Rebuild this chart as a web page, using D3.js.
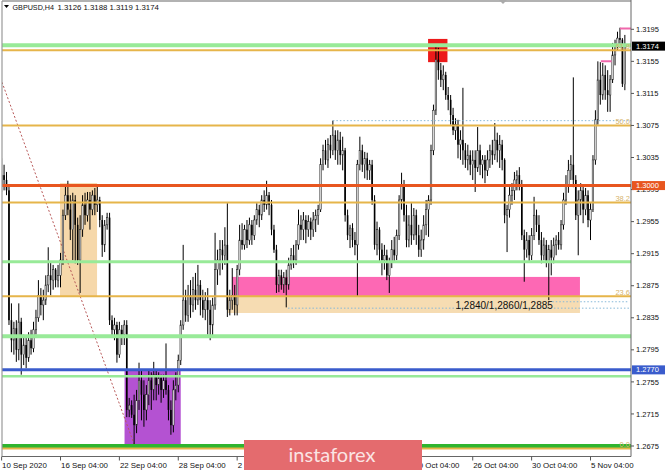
<!DOCTYPE html>
<html><head><meta charset="utf-8">
<script src="https://cdn.jsdelivr.net/npm/d3@7"></script>
<style>body{margin:0;background:#fff;overflow:hidden}svg{display:block}</style>
</head><body><svg id="c" width="665" height="471"></svg>
<script>
// ---- data (prices in 1/10000 units) ----
const symbolTitle = "GBPUSD,H4";
const lastBar = "1.3126 1.3188 1.3119 1.3174";
const opens = [
13001,13013,13007,12994,12832,12807,12822,12795,12830,12789,
12801,12785,12807,12797,12820,12835,12863,12851,12857,12876,
12888,12882,12895,12882,12888,12907,12963,12988,12970,12945,
12982,12951,12907,12945,12976,12963,12982,12970,12988,12976,
12982,12957,12926,12951,12960,12832,12820,12826,12789,12820,
12814,12826,12720,12726,12714,12701,12732,12757,12739,12720,
12739,12757,12745,12764,12751,12760,12745,12757,12745,12720,
12701,12745,12751,12782,12826,12857,12838,12863,12851,12870,
12857,12876,12857,12845,12857,12845,12826,12851,12895,12907,
12920,12913,12926,12845,12857,12863,12851,12895,12932,12926,
12945,12932,12951,12938,12957,12970,12963,12982,12976,12988,
12976,12945,12920,12876,12888,12876,12885,12876,12901,12913,
12907,12926,12951,12945,12957,12945,12955,12945,12957,12963,
12970,13026,13044,13032,13051,13044,13063,13044,13057,13038,
13044,12963,12938,12947,12932,12926,13026,13044,13026,13034,
13019,13026,12982,12926,12945,12920,12907,12913,12888,12905,
12920,12913,12938,12982,13001,12963,12932,12951,12938,12963,
12938,12920,12932,12951,12970,12982,13044,13094,13157,13144,
13132,13138,13113,13107,13088,13069,13076,13051,13057,13044,
13032,13038,13026,13032,13022,13044,13026,13032,13019,13032,
13044,13038,13057,13044,13051,13032,12963,12970,12988,12994,
13007,13013,13001,12938,12920,12932,12913,12938,12963,12951,
12932,12913,12926,12905,12920,12910,12926,12932,12926,12951,
12982,13001,13019,13026,13007,12963,12982,12994,12970,12988,
12957,12970,13032,13082,13132,13113,13138,13119,13113,13132,
13163,13175,13184,13182,13126];
const highs = [
13034,13026,13017,13001,12853,12830,12832,12853,12835,12814,
12810,12817,12820,12830,12845,12882,12872,12870,12888,12923,
12905,12901,12897,12901,12916,12970,13001,13006,12988,12991,
12988,12960,12963,12988,12991,12992,12992,12994,12997,13001,
12986,12963,12957,12966,12966,12838,12835,12830,12830,12826,
12832,12832,12735,12732,12739,12745,12779,12770,12757,12751,
12770,12767,12780,12770,12767,12764,12764,12803,12751,12732,
12757,12767,12789,12832,12926,12870,12876,12882,12886,12891,
12901,12882,12870,12867,12872,12857,12860,12941,12920,12932,
12932,12948,12978,12870,12897,12876,12901,12951,12953,12951,
12957,12960,12957,12963,12978,12976,12988,12994,13006,12992,
12982,12951,12926,12895,12895,12892,12895,12910,12922,12926,
12932,12970,12963,12967,12963,12963,12960,12967,12970,12976,
13034,13051,13057,13059,13063,13081,13069,13069,13067,13061,
13047,12970,12951,12953,12942,13032,13061,13051,13042,13041,
13032,13032,12988,12955,12948,12928,12926,12920,12910,12932,
12936,12945,12988,13016,13007,12976,12963,12978,12972,12970,
12951,12945,12963,12982,12988,13051,13101,13175,13172,13153,
13150,13142,13123,13113,13097,13084,13082,13069,13122,13053,
13051,13044,13044,13044,13073,13051,13038,13038,13044,13051,
13057,13078,13066,13063,13057,13034,12976,12998,13003,13017,
13019,13023,13007,12945,12942,12938,12947,12986,12970,12963,
12942,12935,12932,12926,12932,12935,12938,12942,12957,12991,
13013,13032,13038,13135,13013,12994,13003,13001,12997,12994,
12978,13038,13094,13155,13154,13153,13150,13144,13138,13178,
13182,13192,13197,13184,13188];
const lows = [
12992,12994,12988,12826,12792,12789,12780,12782,12764,12776,
12772,12780,12789,12792,12814,12830,12838,12832,12851,12867,
12863,12870,12873,12873,12873,12901,12957,12963,12932,12907,
12903,12901,12866,12936,12951,12955,12945,12963,12963,12967,
12948,12911,12917,12945,12826,12811,12807,12779,12785,12801,
12801,12711,12711,12710,12674,12691,12720,12707,12699,12707,
12726,12720,12732,12732,12739,12729,12735,12739,12707,12689,
12692,12732,12742,12776,12820,12830,12830,12835,12842,12845,
12851,12838,12835,12832,12814,12807,12810,12845,12876,12888,
12895,12901,12836,12838,12845,12838,12838,12888,12920,12920,
12922,12926,12926,12932,12951,12948,12957,12967,12970,12963,
12938,12916,12866,12867,12870,12866,12848,12870,12895,12897,
12901,12920,12932,12932,12928,12936,12932,12936,12942,12951,
12967,13019,13026,13022,13034,13038,13032,13026,13026,13019,
12955,12932,12922,12923,12913,12861,13019,13017,13009,13007,
13007,12976,12920,12913,12905,12888,12895,12882,12866,12897,
12905,12907,12932,12970,12955,12923,12923,12926,12932,12926,
12911,12911,12920,12938,12936,12976,13038,13088,13132,13123,
13119,13107,13094,13076,13063,13057,13034,13032,13026,13022,
13019,13013,13007,12992,13017,13013,13009,13003,13012,13022,
13026,13032,13029,13022,13019,12953,12917,12960,12976,12982,
12994,12994,12932,12880,12910,12905,12907,12932,12942,12926,
12903,12907,12898,12857,12888,12903,12913,12920,12920,12945,
12976,12991,13007,12998,12957,12913,12963,12953,12963,12948,
12932,12967,13026,13076,13101,13107,13107,13092,13092,13128,
13150,13169,13172,13123,13119];
const closes = [
13013,13007,12994,12832,12807,12822,12795,12830,12789,12801,
12785,12807,12797,12820,12835,12863,12851,12857,12876,12888,
12882,12895,12882,12888,12907,12963,12988,12970,12945,12982,
12951,12907,12945,12976,12963,12982,12970,12988,12976,12982,
12957,12926,12951,12960,12832,12820,12826,12789,12820,12814,
12826,12720,12726,12714,12701,12732,12757,12739,12720,12739,
12757,12745,12764,12751,12760,12745,12757,12745,12720,12701,
12745,12751,12782,12826,12857,12838,12863,12851,12870,12857,
12876,12857,12845,12857,12845,12826,12851,12895,12907,12920,
12913,12926,12845,12857,12863,12851,12895,12932,12926,12945,
12932,12951,12938,12957,12970,12963,12982,12976,12988,12976,
12945,12920,12876,12888,12876,12885,12876,12901,12913,12907,
12926,12951,12945,12957,12945,12955,12945,12957,12963,12970,
13026,13044,13032,13051,13044,13063,13044,13057,13038,13044,
12963,12938,12947,12932,12926,13026,13044,13026,13034,13019,
13026,12982,12926,12945,12920,12907,12913,12888,12905,12920,
12913,12938,12982,13001,12963,12932,12951,12938,12963,12938,
12920,12932,12951,12970,12982,13044,13094,13157,13144,13132,
13138,13113,13107,13088,13069,13076,13051,13057,13044,13032,
13038,13026,13032,13022,13044,13026,13032,13019,13032,13044,
13038,13057,13044,13051,13032,12963,12970,12988,12994,13007,
13013,13001,12938,12920,12932,12913,12938,12963,12951,12932,
12913,12926,12905,12920,12910,12926,12932,12926,12951,12982,
13001,13019,13026,13007,12963,12982,12994,12970,12988,12957,
12970,13032,13082,13132,13113,13138,13119,13113,13132,13163,
13175,13184,13182,13127,13174];

const yTicks = [1.3195,1.3155,1.3115,1.3075,1.3035,1.2995,1.2955,1.2915,1.2875,1.2835,1.2795,1.2755,1.2715,1.2675];
const xTickIndex = [0,24,48,72,96,120,144,168,192,216,240];
const xTickLabels = ["10 Sep 2020","16 Sep 04:00","22 Sep 04:00","28 Sep 04:00","2 Oct 04:00","8 Oct 04:00","14 Oct 04:00","20 Oct 04:00","26 Oct 04:00","30 Oct 04:00","5 Nov 04:00"];

const fibNames  = ["0.0","23.6","38.2","50.0","61.8"];
const fibValues = [1.2672,1.2862,1.2979,1.3075,1.3169];
const greenLines = [1.3175,1.2905,1.2812,1.2762];
const greenWidths = [4,3,4,2.5];
const level1300 = 1.3000;
const level1277 = 1.2770;
const level1267 = 1.2675;
const lastPrice = 1.3174;
// zones: [startIndex, endIndex, lowPrice, highPrice]
const zoneTan1   = [23.8, 38.9, 1.2862, 1.3003];
const zonePurple = [50.1, 73.0, 1.2675, 1.2770];
const zoneTan2   = [92.3, 235.7, 1.2841, 1.2862];
const zonePink   = [93.9, 235.7, 1.2862, 1.2886];
const zoneRed    = [173.8, 181.7, 1.3154, 1.3183];
const zoneText = "1,2840/1,2860/1,2885";
// dotted lines: [startIndex, endIndex, price]
const dottedLevels = [[135, 256.5, 1.3081],[223, 255.8, 1.2855],[116.7, 255.8, 1.2847]];
// pink highs: [startIndex, endIndex, price]
const pinkHighs = [[244.2, 248.6, 1.3155],[252, 256.5, 1.3196]];
// diagonal trend line: [index, price] pairs
const trendLine = [[0.16, 1.3129],[54.4, 1.2674]];

// ---- layout ----
const L = 2, R = 631, T = 1, B = 456.5;
const svg = d3.select("#c");
const x = d3.scaleLinear().domain([24, 240]).range([60.5, 590.5]);
const y = d3.scaleLinear().domain([1.2675, 1.3195]).range([446, 29.3]);
const FONT = "'Liberation Sans', Arial, sans-serif";
const WM = {x: 244, y: 440, w: 178, h: 30};

svg.append("defs").append("clipPath").attr("id","plot")
  .append("rect").attr("x",L).attr("y",T).attr("width",R-L).attr("height",B-T);
const g = svg.append("g").attr("clip-path","url(#plot)");

function zone(z, fill){
  g.append("rect").attr("x", x(z[0])).attr("width", x(z[1]) - x(z[0]))
   .attr("y", y(z[3])).attr("height", y(z[2]) - y(z[3])).attr("fill", fill);
}
zone(zoneTan1, "#f6d8aa");
zone(zonePurple, "#b452d2");
zone(zoneTan2, "#f6dcb2");
zone(zonePink, "#fd68b4");
zone(zoneRed, "#ec1a1a");

// diagonal dotted
g.append("line").attr("x1", x(trendLine[0][0])).attr("y1", y(trendLine[0][1]))
 .attr("x2", x(trendLine[1][0])).attr("y2", y(trendLine[1][1]))
 .attr("stroke","#b85a5a").attr("stroke-width",1).attr("stroke-dasharray","2,2");

// candles
const bars = d3.range(closes.length).map(i => ({i, o:opens[i]/1e4, h:highs[i]/1e4, l:lows[i]/1e4, c:closes[i]/1e4}));
const cg = g.append("g");
cg.selectAll("line.w").data(bars).join("line").attr("class","w")
  .attr("x1", d => x(d.i)).attr("x2", d => x(d.i))
  .attr("y1", d => y(Math.max(d.h,d.o,d.c))).attr("y2", d => y(Math.min(d.l,d.o,d.c)))
  .attr("stroke","#000").attr("stroke-width",1);
cg.selectAll("rect.b").data(bars).join("rect").attr("class","b")
  .attr("x", d => x(d.i) - 0.8).attr("width", 1.6)
  .attr("y", d => y(Math.max(d.o,d.c)))
  .attr("height", d => Math.max(0.8, Math.abs(y(d.o) - y(d.c))))
  .attr("fill", d => d.c >= d.o ? "#d8d8d8" : "#000")
  .attr("stroke", d => d.c >= d.o ? "#222" : "none").attr("stroke-width", 0.5);

// horizontal lines
function hline(v, color, w, x1 = L, x2 = R, dash = null){
  const ln = g.append("line").attr("x1",x1).attr("x2",x2).attr("y1",y(v)).attr("y2",y(v))
    .attr("stroke",color).attr("stroke-width",w);
  if (dash) ln.attr("stroke-dasharray", dash);
}
greenLines.forEach((v,k) => hline(v, "#98ea98", greenWidths[k]));
hline(level1267, "#2fb52f", 4);
fibValues.forEach(v => hline(v, "#e6b54a", 2));
hline(level1300, "#e8561f", 3);
hline(level1277, "#3a5ccc", 3);
dottedLevels.forEach(d => hline(d[2], "#86b8d8", 1, x(d[0]), x(d[1]), "1.5,2"));
pinkHighs.forEach(d => hline(d[2], "#f068ac", 2, x(d[0]), x(d[1])));

// fib labels
fibValues.forEach((v,k) => {
  svg.append("text").attr("x", 630).attr("y", y(v) - 1.5).attr("text-anchor","end")
    .attr("font-family",FONT).attr("font-size",7.5).attr("fill","#d6b36c").text(fibNames[k]);
});
// zone text
svg.append("text").attr("x", 455.5).attr("y", 309).attr("font-family",FONT).attr("font-size",10)
  .attr("fill","#111").text(zoneText);

// frame
svg.append("line").attr("x1",L).attr("x2",R).attr("y1",T).attr("y2",T).attr("stroke","#999").attr("stroke-width",1.5);
svg.append("line").attr("x1",L).attr("x2",L).attr("y1",T).attr("y2",B).attr("stroke","#999").attr("stroke-width",1.2);
svg.append("line").attr("x1",R).attr("x2",R).attr("y1",0).attr("y2",B).attr("stroke","#666").attr("stroke-width",1);
svg.append("line").attr("x1",L).attr("x2",R).attr("y1",B).attr("y2",B).attr("stroke","#666").attr("stroke-width",1);
// shift marker
svg.append("path").attr("d", `M${499},0 L${507},0 L${503},4 Z`).attr("fill","#aaa");

// y axis
const ya = svg.append("g");
yTicks.forEach(v => {
  ya.append("line").attr("x1",R).attr("x2",R+3).attr("y1",y(v)).attr("y2",y(v)).attr("stroke","#555");
  ya.append("text").attr("x",636).attr("y",y(v)).attr("dy","0.35em").attr("font-family",FONT)
    .attr("font-size",7.5).attr("fill","#111").text(v.toFixed(4));
});
function priceBox(v, bg){
  ya.append("rect").attr("x",R+1).attr("y",y(v)-4.5).attr("width",34).attr("height",9).attr("fill",bg);
  ya.append("text").attr("x",636).attr("y",y(v)).attr("dy","0.35em").attr("font-family",FONT)
    .attr("font-size",7.5).attr("fill","#fff").text(v.toFixed(4));
}
priceBox(lastPrice, "#000");
priceBox(level1300, "#e8561f");
priceBox(level1277, "#3a5ccc");

// x axis (labels that would sit entirely under the watermark are not visible in the reference)
xTickIndex.forEach((ix,k) => {
  const tx = x(ix);
  svg.append("line").attr("x1",tx).attr("x2",tx).attr("y1",B).attr("y2",B+4).attr("stroke","#555");
  const t = svg.append("text").attr("x",tx+0.5).attr("y",468).attr("font-family",FONT).attr("font-size",7.9)
    .attr("fill","#111").text(xTickLabels[k]);
  const bb = t.node().getBBox();
  if (bb.x >= WM.x && bb.x + bb.width <= WM.x + WM.w) t.remove();
});

// title
svg.append("path").attr("d","M4,5 L9,5 L6.5,8 Z").attr("fill","#000");
svg.append("text").attr("x",12.5).attr("y",10).attr("font-family",FONT).attr("font-size",7.2).attr("fill","#111").text(symbolTitle);
svg.append("text").attr("x",57.5).attr("y",10).attr("font-family",FONT).attr("font-size",7.8).attr("fill","#111").text(lastBar);

// watermark
svg.append("rect").attr("x",WM.x).attr("y",WM.y).attr("width",WM.w).attr("height",WM.h).attr("fill","#e46b6e");
svg.append("text").attr("x",332).attr("y",461.5).attr("text-anchor","middle").attr("font-family","Lato, 'Open Sans', sans-serif")
  .attr("font-size",20).attr("fill","#fbe4e4").text("instaforex");
</script></body></html>
